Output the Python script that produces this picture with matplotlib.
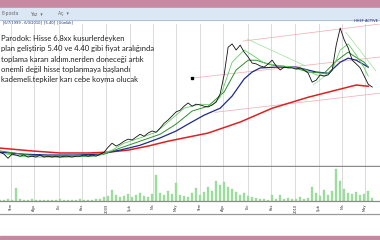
import pandas as pd
import matplotlib
matplotlib.use("Agg")
import matplotlib.pyplot as plt
from matplotlib.patches import Rectangle
from matplotlib.lines import Line2D

# weekly closes (TL)
close = [3.80, 3.75, 3.65, 3.75, 3.73, 3.70, 3.73, 3.68, 3.70, 3.68,
         3.73, 3.68, 3.70, 3.68, 3.70, 3.68, 3.70, 3.70, 3.68, 3.70,
         3.70, 3.73, 3.70, 3.73, 3.70, 3.75, 3.80, 3.92, 4.02, 3.95,
         4.00, 4.07, 4.12, 4.10, 4.17, 4.24, 4.19, 4.27, 4.32, 4.29,
         4.39, 4.51, 4.59, 4.69, 4.79, 4.83, 4.93, 5.01, 4.93, 4.98,
         4.96, 4.93, 4.91, 4.96, 5.03, 5.23, 5.70, 6.38, 6.46, 6.31,
         6.43, 6.26, 6.14, 5.99, 5.97, 5.92, 5.89, 5.97, 6.06, 5.92,
         5.82, 5.89, 5.87, 5.87, 5.84, 5.87, 5.82, 5.74, 5.52, 5.57,
         5.70, 5.67, 5.70, 5.82, 6.43, 6.85, 6.56, 6.36, 6.06, 5.97,
         5.87, 5.67, 5.47, 5.40]

volume = [1, 1, 2, 1, 13, 2, 1, 1, 2, 1,
          1, 1, 1, 1, 1, 2, 1, 1, 1, 1,
          2, 1, 1, 1, 2, 2, 4, 5, 11, 6,
          4, 5, 7, 4, 6, 8, 5, 4, 7, 26,
          8, 6, 10, 7, 18, 6, 5, 4, 8, 13,
          6, 9, 14, 10, 20, 16, 19, 14, 12, 9,
          6, 8, 5, 4, 3, 2, 2, 1, 6, 2,
          6, 2, 3, 2, 2, 4, 2, 3, 14, 8,
          5, 11, 6, 10, 32, 20, 12, 8, 7, 9,
          6, 7, 10, 3]

dates = pd.date_range("2008-06-10", "2010-05-29", periods=len(close))

# moving averages, sampled at some of the weeks above
ma200_idx = [0, 8, 15, 22, 27, 32, 37, 42, 47, 52, 60, 68, 77, 83, 89, 92]
ma200 = [3.90, 3.83, 3.78, 3.78, 3.80, 3.85, 3.95, 4.07, 4.17, 4.27,
         4.54, 4.88, 5.15, 5.30, 5.45, 5.42]

ma100_idx = [0, 6, 12, 19, 25, 30, 35, 40, 44, 47, 51, 55, 58, 61, 63, 65,
             69, 74, 79, 82, 85, 87, 89, 92]
ma100 = [3.80, 3.75, 3.73, 3.73, 3.75, 3.85, 3.97, 4.15, 4.32, 4.49, 4.71,
         4.88, 5.18, 5.60, 5.77, 5.87, 5.89, 5.89, 5.77, 5.74, 6.01, 6.11,
         6.06, 5.89]

ma50_idx = [0, 7, 15, 23, 26, 30, 35, 40, 44, 48, 52, 56, 59, 62, 64, 68,
            73, 77, 81, 84, 87, 88, 91, 92]
ma50 = [3.83, 3.73, 3.68, 3.70, 3.75, 3.90, 4.07, 4.24, 4.49, 4.81, 4.93,
        5.28, 5.82, 6.06, 6.06, 5.94, 5.89, 5.77, 5.74, 6.04, 6.26, 6.19,
        6.01, 5.89]

ma20_idx = [0, 5, 10, 15, 20, 25, 28, 31, 35, 39, 42, 46, 50, 53, 55, 58,
            61, 63, 66, 69, 73, 76, 79, 81, 83, 85, 87, 89, 91, 92]
ma20 = [3.78, 3.70, 3.68, 3.68, 3.70, 3.73, 3.85, 4.02, 4.15, 4.29, 4.54,
        4.88, 4.98, 4.96, 5.15, 6.01, 6.31, 6.19, 5.99, 5.94, 5.89, 5.84,
        5.70, 5.67, 5.82, 6.31, 6.46, 6.19, 5.87, 5.67]

# hand drawn trend lines: (start date, start price, end date, end price)
pink_lines = [("2009-09-22", 6.53, "2010-06-13", 6.95),
              ("2009-06-15", 5.62, "2010-06-13", 6.14),
              ("2009-07-30", 4.78, "2010-06-13", 5.25)]
green_lines = [("2009-09-30", 6.58, "2010-01-20", 5.92),
               ("2010-02-04", 5.45, "2010-03-15", 5.82),
               ("2010-04-08", 6.75, "2010-06-05", 5.80)]

tick_dates = ["2008-07-01", "2008-08-15", "2008-10-01", "2008-11-15",
              "2009-01-01", "2009-02-15", "2009-04-01", "2009-05-15",
              "2009-07-01", "2009-08-15", "2009-10-01", "2009-11-15",
              "2010-01-01", "2010-02-15", "2010-04-01", "2010-05-15"]
tick_labels = ["Tem", "Ağu", "Eki", "Kas", "2009", "Şub", "Nis", "May",
               "Tem", "Ağu", "Eki", "Kas", "2010", "Şub", "Nis", "May"]

note = ("Parodok: Hisse 6.8xx kusurlerdeyken\n"
        "plan geliştirip 5.40 ve 4.40 gibi fiyat aralığında\n"
        "toplama kararı aldım.nerden doneceği artık\n"
        "onemli değil hisse toplanmaya başlandı\n"
        "kademeli.tepkiler karı cebe koyma olucak")

W, H = 380, 240
fig = plt.figure(figsize=(W / 100, H / 100), dpi=100)


def fy(py):
    # pixel row (from top) -> figure fraction
    return 1 - py / H


# window chrome
fig.patches.append(Rectangle((0, fy(8)), 1, 8 / H, transform=fig.transFigure,
                             color="#c7899f", zorder=0))
fig.patches.append(Rectangle((0, fy(19.5)), 1, 11.5 / H, transform=fig.transFigure,
                             color="#dce7f5", zorder=0))
fig.patches.append(Rectangle((0, fy(240)), 1, 4 / H, transform=fig.transFigure,
                             color="#c7899f", zorder=0))
fig.lines.append(Line2D([0, 1], [fy(19.5), fy(19.5)], transform=fig.transFigure,
                        color="#a9bcd6", lw=0.6))
fig.lines.append(Line2D([0, 1], [fy(214), fy(214)], transform=fig.transFigure,
                        color="#9a9a9a", lw=0.9))

fig.text(2 / W, fy(14), "E-posta", fontsize=3.3, color="#666", va="center")
fig.text(30 / W, fy(14), "Yaz  ▾", fontsize=3.3, color="#666", va="center")
fig.text(58 / W, fy(14), "Aç  ▾", fontsize=3.3, color="#666", va="center")
fig.text(3 / W, fy(22), "[6/7/1999 - 6/3/2010]  [5.40]  [Günlük]", fontsize=2.6,
         color="#1a2a6a", va="center")
fig.text(378 / W, fy(21), "HHEF ACTIVE", fontsize=2.6, color="#1a2a6a",
         va="center", ha="right")

# price panel
ax = fig.add_axes([0, fy(166), 1, 142 / H])
ax.set_facecolor("white")
for d in tick_dates:
    ax.axvline(pd.Timestamp(d), color="#d6d6d6", lw=0.6, zorder=0)

for d0, p0, d1, p1 in pink_lines:
    ax.plot([pd.Timestamp(d0), pd.Timestamp(d1)], [p0, p1], color="#f0a8b0", lw=0.5)
for d0, p0, d1, p1 in green_lines:
    ax.plot([pd.Timestamp(d0), pd.Timestamp(d1)], [p0, p1], color="#9be09b", lw=0.5)

ax.plot(dates[ma200_idx], ma200, color="#e02020", lw=1.1)
ax.plot(dates[ma100_idx], ma100, color="#1c2a8c", lw=0.9)
ax.plot(dates[ma50_idx], ma50, color="#2f8f2f", lw=0.7)
ax.plot(dates[ma20_idx], ma20, color="#66cc66", lw=0.6)
ax.plot(dates, close, color="#111111", lw=0.6)
ax.plot(pd.Timestamp("2009-06-15"), 5.62, "s", color="black", ms=1.5)

ax.text(pd.Timestamp("2008-06-11"), 6.68, note, fontsize=5.5, family="Lato",
        color="#222222", va="top", linespacing=1.55)

ax.set_xlim(pd.Timestamp("2008-06-10"), pd.Timestamp("2010-06-13"))
ax.set_ylim(3.46, 6.95)
ax.set_xticks([])
ax.set_yticks([])
for s in ["top", "left", "right"]:
    ax.spines[s].set_visible(False)
ax.spines["bottom"].set_color("#8a8a8a")
ax.spines["bottom"].set_linewidth(1.0)

# volume panel
vax = fig.add_axes([0, fy(201), 1, 34 / H])
for d in tick_dates:
    vax.axvline(pd.Timestamp(d), color="#d6d6d6", lw=0.6, zorder=0)
vax.bar(dates, volume, width=3, color="#9edf9e", edgecolor="#8ad48a", lw=0.2)
vax.set_xlim(ax.get_xlim())
vax.set_ylim(0, 34)
vax.set_yticks([])
vax.set_xticks([pd.Timestamp(d) for d in tick_dates])
vax.set_xticklabels(tick_labels, rotation=90, fontsize=2.6, color="#333")
vax.tick_params(axis="x", length=0, pad=2)
for s in ["top", "left", "right"]:
    vax.spines[s].set_visible(False)
vax.spines["bottom"].set_color("#8a8a8a")
vax.spines["bottom"].set_linewidth(0.9)

fig.savefig("out.png", dpi=100)
